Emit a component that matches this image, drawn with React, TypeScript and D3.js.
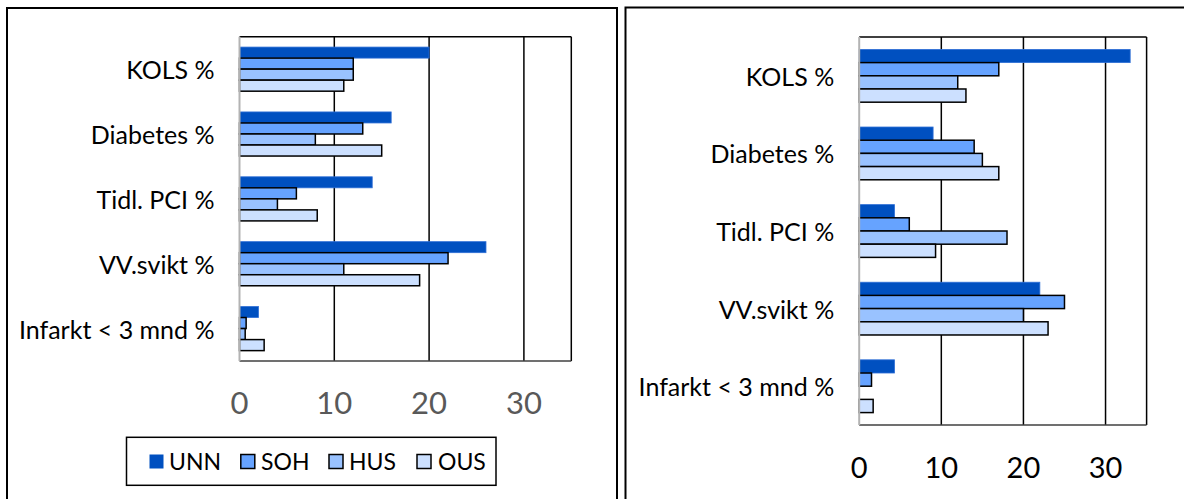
import React, { useEffect } from "react";
import * as d3 from "d3";

const categories = ["KOLS %", "Diabetes %", "Tidl. PCI %", "VV.svikt %", "Infarkt < 3 mnd %"];
const seriesNames = ["UNN", "SOH", "HUS", "OUS"];
const seriesColors = ["#0050C0", "#66A3FF", "#99C2FF", "#CCE0FF"];

const leftUNN = [20, 16, 14, 26, 2];
const leftSOH = [12, 13, 6, 22, 0.7];
const leftHUS = [12, 8, 4, 11, 0.6];
const leftOUS = [11, 15, 8.2, 19, 2.6];

const rightUNN = [33, 9, 4.3, 22, 4.3];
const rightSOH = [17, 14, 6.1, 25, 1.5];
const rightHUS = [12, 15, 18, 20, 0];
const rightOUS = [13, 17, 9.3, 23, 1.7];

const xTicks = [0, 10, 20, 30];
const xMax = 35;

const FONT = "Lato, 'Open Sans', sans-serif";

type PanelProps = {
  values: number[][];
  x0: number;
  x1: number;
  y0: number;
  y1: number;
  labelSize: number;
  tickSize: number;
  tickColor: string;
  tickY: number;
};

function Panel({ values, x0, x1, y0, y1, labelSize, tickSize, tickColor, tickY }: PanelProps) {
  const x = d3.scaleLinear().domain([0, xMax]).range([x0, x1]);
  const y = d3.scaleBand<string>().domain(categories).range([y0, y1]).paddingInner(0.32).paddingOuter(0.16);
  const ys = d3.scaleBand<string>().domain(seriesNames).range([0, y.bandwidth()]);
  return (
    <g>
      {xTicks.filter((t) => t > 0).map((t) => (
        <line key={"g" + t} x1={x(t)} x2={x(t)} y1={y0} y2={y1} stroke="#000" strokeWidth={1.5} />
      ))}
      <line x1={x0} x2={x1} y1={y0} y2={y0} stroke="#000" strokeWidth={1.5} />
      <line x1={x1} x2={x1} y1={y0} y2={y1} stroke="#000" strokeWidth={1.5} />
      <line x1={x0} x2={x1} y1={y1} y2={y1} stroke="#404040" strokeWidth={1.5} />
      {categories.map((c, ci) =>
        seriesNames.map((s, si) => {
          const v = values[si][ci];
          if (!(v > 0)) return null;
          const by = (y(c) as number) + (ys(s) as number);
          return (
            <rect
              key={c + s}
              x={x(0)}
              y={by}
              width={x(v) - x(0)}
              height={ys.bandwidth()}
              fill={seriesColors[si]}
              stroke={si === 0 ? "#2f6fd6" : "#000"}
              strokeWidth={si === 0 ? 0.8 : 1.5}
            />
          );
        })
      )}
      <line x1={x0} x2={x0} y1={y0} y2={y1} stroke="#b3b3b3" strokeWidth={2} />
      {categories.map((c) => (
        <text
          key={"l" + c}
          x={x0 - 25}
          y={(y(c) as number) + y.bandwidth() / 2}
          textAnchor="end"
          dominantBaseline="central"
          fontFamily={FONT}
          fontSize={labelSize}
          fill="#000"
        >
          {c}
        </text>
      ))}
      {xTicks.map((t) => (
        <text
          key={"t" + t}
          x={x(t)}
          y={tickY}
          textAnchor="middle"
          dominantBaseline="central"
          fontFamily={FONT}
          fontSize={tickSize}
          fill={tickColor}
        >
          {t}
        </text>
      ))}
    </g>
  );
}

export default function App() {
  useEffect(() => {
    document.body.style.margin = "0";
  }, []);
  const leftValues = [leftUNN, leftSOH, leftHUS, leftOUS];
  const rightValues = [rightUNN, rightSOH, rightHUS, rightOUS];
  const legendSquareX = [149.5, 240.8, 329, 417];
  const legendTextX = [169, 261, 349, 438];
  return (
    <div style={{ position: "fixed", left: 0, top: 0 }}>
      <svg width={1184} height={499} style={{ display: "block", background: "#fff" }}>
        <rect x={0} y={0} width={1184} height={499} fill="#fff" />
        <rect x={7} y={8} width={610} height={520} fill="none" stroke="#000" strokeWidth={2} />
        <rect x={625.5} y={7.5} width={600} height={520} fill="none" stroke="#000" strokeWidth={2} />
        <Panel
          values={leftValues}
          x0={239.5}
          x1={571.3}
          y0={36.7}
          y1={361}
          labelSize={25}
          tickSize={31}
          tickColor="#595959"
          tickY={401.5}
        />
        <Panel
          values={rightValues}
          x0={859.2}
          x1={1146.6}
          y0={37}
          y1={425}
          labelSize={25}
          tickSize={29}
          tickColor="#000"
          tickY={466.5}
        />
        <rect x={126.5} y={437.3} width={369.5} height={48} fill="#fff" stroke="#000" strokeWidth={1.5} />
        {seriesNames.map((s, i) => (
          <g key={"lg" + s}>
            <rect
              x={legendSquareX[i]}
              y={454.5}
              width={14}
              height={14}
              fill={seriesColors[i]}
              stroke={i === 0 ? "none" : "#000"}
              strokeWidth={1.5}
            />
            <text x={legendTextX[i]} y={469.5} fontFamily={FONT} fontSize={23} fill="#000">
              {s}
            </text>
          </g>
        ))}
      </svg>
    </div>
  );
}
